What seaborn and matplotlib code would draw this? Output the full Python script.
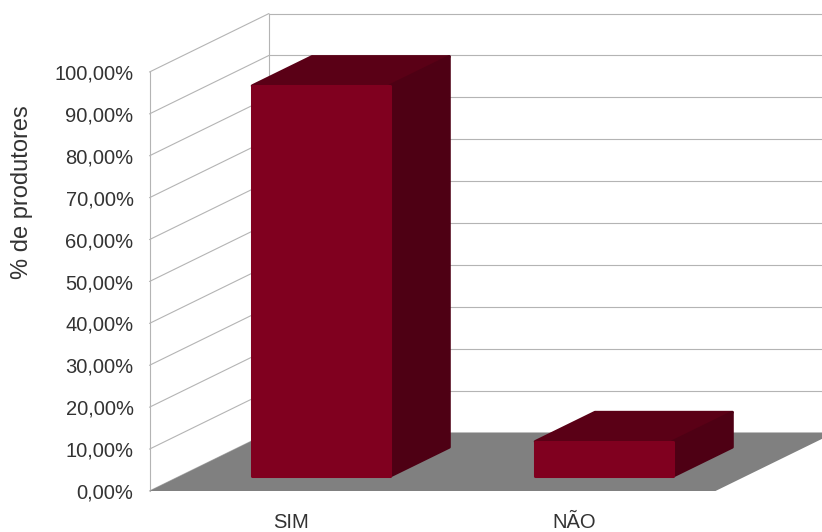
# Pseudo 3D bar chart - % de produtores

import matplotlib
matplotlib.use("Agg")
import matplotlib.pyplot as plt
import seaborn as sns

categories = ["SIM", "NÃO"]
values = [93.2, 8.3]
y_ticks = [0, 10, 20, 30, 40, 50, 60, 70, 80, 90, 100]
y_tick_labels = ["0,00%", "10,00%", "20,00%", "30,00%", "40,00%", "50,00%",
                 "60,00%", "70,00%", "80,00%", "90,00%", "100,00%"]

FRONT = "#80001f"
TOP = "#5a0016"
SIDE = "#4e0014"
FLOOR = "#808080"
GRID = "#b4b4b4"
TEXT = "#333333"

# how far one unit of depth moves a point, in data units
DEPTH_X = 0.4223
DEPTH_Y = 13.96
BAR_NEAR = 0.25
BAR_FAR = 0.75


def project(x, y, depth):
    return x + depth * DEPTH_X, y + depth * DEPTH_Y


sns.set_style("white")
plt.rcParams["font.family"] = ["Liberation Sans", "DejaVu Sans"]

W, H = 822, 532
fig = plt.figure(figsize=(W / 100, H / 100), dpi=100)
ax = fig.add_axes([149.5 / W, (H - 491) / H, 566 / W, 419 / H])

sns.barplot(x=categories, y=values, color=FRONT, saturation=1, width=0.485, ax=ax, zorder=4)
bars = list(ax.patches)
ax.set_xlim(-0.5, 1.5)
ax.set_ylim(0, 100)

# back wall and left wall
x0, x1 = -0.5, 1.5
for v in y_ticks:
    bx, by = project(x0, v, 1)
    ax.plot([x0, bx], [v, by], color=GRID, lw=0.8, clip_on=False, zorder=1)
    ax.plot([bx, 2.0], [by, by], color=GRID, lw=0.8, clip_on=False, zorder=1)
bx, by0 = project(x0, 0, 1)
_, by1 = project(x0, 100, 1)
ax.plot([bx, bx], [by0, by1], color=GRID, lw=0.8, clip_on=False, zorder=1)

# floor
floor = [project(x0, 0, 0), project(x1, 0, 0), project(x1, 0, 1), project(x0, 0, 1)]
ax.fill([p[0] for p in floor], [p[1] for p in floor], color=FLOOR, lw=0, clip_on=False, zorder=2)

# depth faces of each bar, worked out from the bars seaborn drew
for bar in bars:
    left = bar.get_x()
    right = left + bar.get_width()
    h = bar.get_height()
    nx, ny = project(left, 0, BAR_NEAR)
    bar.set_x(nx)
    bar.set_y(ny)
    bar.set_edgecolor(FRONT)
    bar.set_linewidth(2.2)
    bar.set_joinstyle("round")
    bar.set_clip_on(False)

    top = [project(left, h, BAR_NEAR), project(right, h, BAR_NEAR),
           project(right, h, BAR_FAR), project(left, h, BAR_FAR)]
    side = [project(right, 0, BAR_NEAR), project(right, 0, BAR_FAR),
            project(right, h, BAR_FAR), project(right, h, BAR_NEAR)]
    ax.fill([p[0] for p in top], [p[1] for p in top], facecolor=TOP, edgecolor=TOP,
            lw=2.2, joinstyle="round", clip_on=False, zorder=3)
    ax.fill([p[0] for p in side], [p[1] for p in side], facecolor=SIDE, edgecolor=SIDE,
            lw=2.2, joinstyle="round", clip_on=False, zorder=3)

for name in ["top", "right", "bottom"]:
    ax.spines[name].set_visible(False)
ax.spines["left"].set_color(GRID)
ax.spines["left"].set_linewidth(0.8)
ax.spines["left"].set_zorder(1)

ax.set_yticks(y_ticks)
ax.set_yticklabels(y_tick_labels, fontsize=14.5, color=TEXT)
ax.tick_params(axis="y", length=0, pad=11.5)
ax.tick_params(axis="x", length=0, pad=16, labelsize=14.5, labelcolor=TEXT)
ax.set_xlabel("")
ax.set_ylabel("% de produtores", fontsize=17, color=TEXT)
ax.yaxis.set_label_coords(-0.206, 0.714)

fig.savefig("out.png", dpi=100)
